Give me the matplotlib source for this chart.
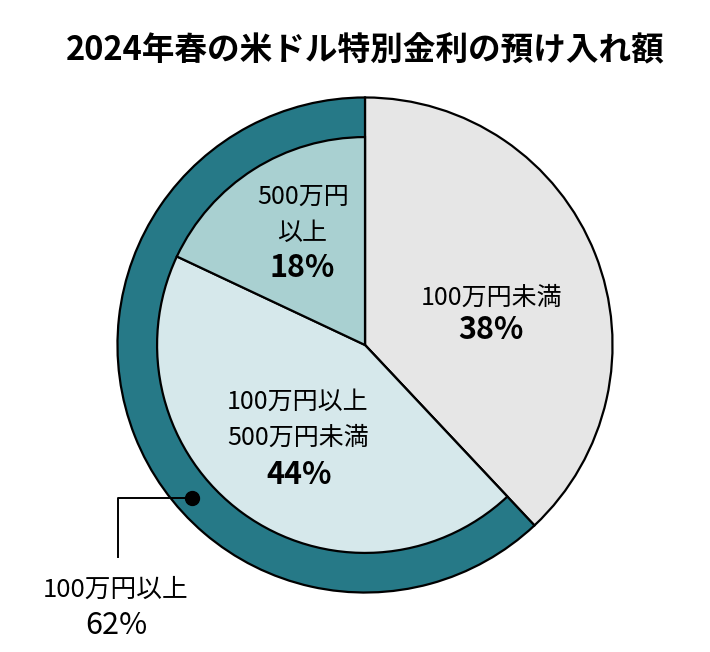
import matplotlib
matplotlib.use("Agg")
import matplotlib.pyplot as plt

plt.rcParams['font.family'] = ['Noto Sans CJK JP', 'DejaVu Sans']

title = "2024年春の米ドル特別金利の預け入れ額"
inner_labels = ["100万円未満", "100万円以上\n500万円未満", "500万円\n以上"]
inner_values = [38, 44, 18]
outer_labels = ["100万円未満", "100万円以上"]
outer_values = [38, 62]

c_gray = "#E6E6E6"
c_light = "#D6E8EB"
c_mid = "#A9D0D1"
c_dark = "#267987"

W, H = 710, 652
fig = plt.figure(figsize=(W / 100, H / 100), dpi=100)
cx, cy, R = 365, 345, 250
ax = fig.add_axes([(cx - R) / W, (H - cy - R) / H, 2 * R / W, 2 * R / H])

wp = dict(edgecolor="black", linewidth=1.6)
ax.pie(outer_values, radius=1.0, startangle=90, counterclock=False,
       colors=[c_gray, c_dark], wedgeprops=wp)
r_in = 210 / 250
wedges, _ = ax.pie(inner_values, radius=r_in, startangle=90, counterclock=False,
                   colors=[c_gray, c_light, c_mid], wedgeprops=wp)
wedges[0].set_visible(False)
ax.set_xlim(-1.01, 1.01)
ax.set_ylim(-1.01, 1.01)
ax.set_aspect("equal")
ax.axis("off")

def fx(px):
    return px / W

def fy(py):
    return 1 - py / H

fig.text(fx(365), fy(51), title, ha="center", va="center", fontsize=23.5, fontweight="bold")

LS = 18
PS = 22

fig.text(fx(492), fy(298), inner_labels[0], ha="center", va="center", fontsize=LS)
fig.text(fx(491), fy(330), f"{inner_values[0]}%", ha="center", va="center", fontsize=PS, fontweight="bold")

l2 = inner_labels[1].split("\n")
fig.text(fx(298), fy(402), l2[0], ha="center", va="center", fontsize=LS)
fig.text(fx(298), fy(438), l2[1], ha="center", va="center", fontsize=LS)
fig.text(fx(299), fy(475), f"{inner_values[1]}%", ha="center", va="center", fontsize=PS, fontweight="bold")

l3 = inner_labels[2].split("\n")
fig.text(fx(303), fy(197), l3[0], ha="center", va="center", fontsize=LS)
fig.text(fx(302), fy(233), l3[1], ha="center", va="center", fontsize=LS)
fig.text(fx(302), fy(268), f"{inner_values[2]}%", ha="center", va="center", fontsize=PS, fontweight="bold")

# annotation for outer ring
fig.add_artist(plt.Line2D([fx(192), fx(118), fx(118)], [fy(498), fy(498), fy(557)],
                          color="black", linewidth=1.4))
fig.add_artist(plt.Line2D([fx(192)], [fy(498)], marker="o", markersize=10, color="black"))
fig.text(fx(116), fy(590), outer_labels[1], ha="center", va="center", fontsize=18.5)
fig.text(fx(116), fy(626), f"{outer_values[1]}%", ha="center", va="center", fontsize=22)

fig.savefig("out.png", dpi=100, facecolor="white")
